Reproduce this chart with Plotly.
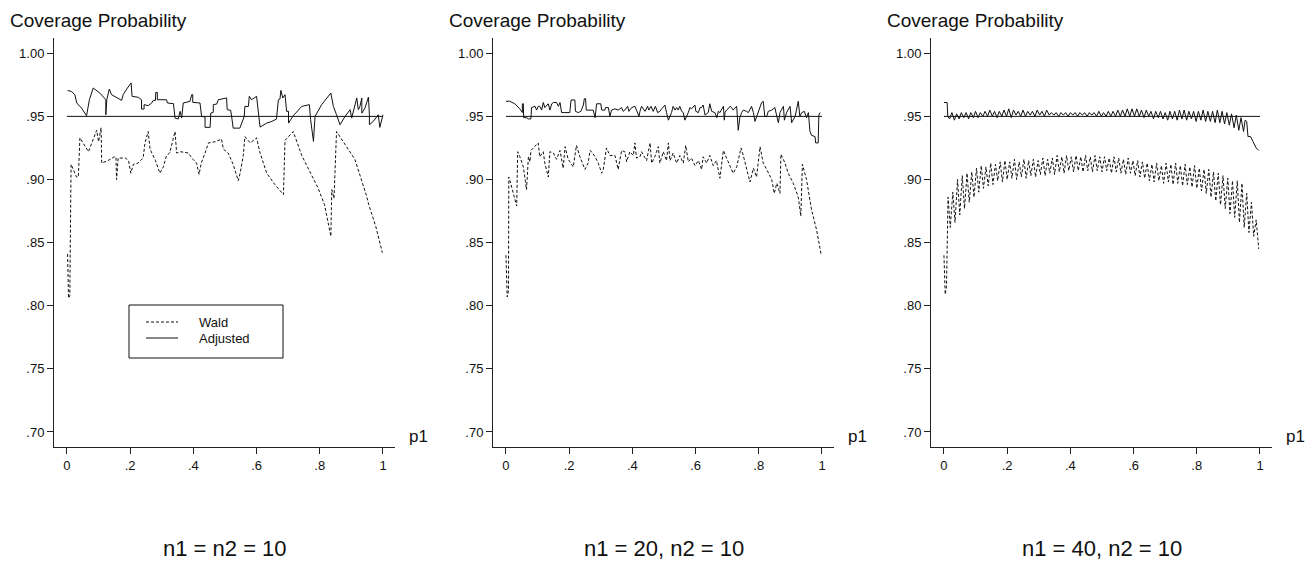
import plotly.graph_objects as go

# ---------------- data ----------------
panel_titles = ["n1 = n2 = 10", "n1 = 20, n2 = 10", "n1 = 40, n2 = 10"]
y_title = "Coverage Probability"
x_title = "p1"
series_names = ["Wald", "Adjusted"]
nominal_level = 0.95
nominal_x = [0.0, 1.0]

x_tickvals = [0, 0.2, 0.4, 0.6, 0.8, 1.0]
x_ticktext = ["0", ".2", ".4", ".6", ".8", "1"]
y_tickvals = [0.70, 0.75, 0.80, 0.85, 0.90, 0.95, 1.00]
y_ticktext = [".70", ".75", ".80", ".85", ".90", ".95", "1.00"]

# Panel 1: n1 = n2 = 10
wald1_p = [0.002, 0.005, 0.009, 0.013, 0.020, 0.030, 0.036, 0.041, 0.068, 0.094, 0.100, 0.108, 0.110,
           0.130, 0.150, 0.155, 0.157, 0.162, 0.185, 0.195, 0.202, 0.210, 0.225, 0.241, 0.247, 0.257,
           0.263, 0.280, 0.294, 0.305, 0.315, 0.325, 0.342, 0.347, 0.360, 0.384, 0.395, 0.410, 0.418,
           0.425, 0.437, 0.448, 0.470, 0.489, 0.495, 0.510, 0.526, 0.542, 0.548, 0.558, 0.563, 0.580,
           0.600, 0.610, 0.632, 0.658, 0.685, 0.690, 0.716, 0.743, 0.765, 0.795, 0.815, 0.835, 0.838,
           0.845, 0.853, 0.880, 0.911, 0.948, 0.955, 0.977, 0.998]
wald1_v = [0.841, 0.806, 0.808, 0.912, 0.908, 0.902, 0.902, 0.933, 0.922, 0.939, 0.930, 0.941, 0.913,
           0.915, 0.918, 0.918, 0.900, 0.917, 0.917, 0.915, 0.905, 0.912, 0.913, 0.917, 0.929, 0.938,
           0.924, 0.915, 0.905, 0.910, 0.919, 0.921, 0.938, 0.921, 0.922, 0.921, 0.917, 0.913, 0.904,
           0.913, 0.921, 0.929, 0.930, 0.932, 0.924, 0.921, 0.912, 0.899, 0.905, 0.919, 0.934, 0.929,
           0.933, 0.922, 0.905, 0.896, 0.888, 0.931, 0.938, 0.919, 0.908, 0.893, 0.880, 0.855, 0.892,
           0.885, 0.938, 0.928, 0.916, 0.887, 0.880, 0.863, 0.842]
adj1_p = [0.002, 0.015, 0.025, 0.031, 0.046, 0.062, 0.071, 0.083, 0.104, 0.123, 0.123, 0.126, 0.134,
          0.141, 0.173, 0.178, 0.189, 0.203, 0.206, 0.226, 0.236, 0.236, 0.244, 0.244, 0.257, 0.268,
          0.273, 0.280, 0.281, 0.286, 0.286, 0.315, 0.318, 0.337, 0.342, 0.352, 0.358, 0.363, 0.368,
          0.389, 0.395, 0.398, 0.398, 0.421, 0.426, 0.437, 0.437, 0.453, 0.455, 0.463, 0.463, 0.474,
          0.479, 0.489, 0.505, 0.507, 0.518, 0.521, 0.526, 0.547, 0.561, 0.563, 0.574, 0.577, 0.584,
          0.600, 0.605, 0.611, 0.632, 0.648, 0.663, 0.669, 0.674, 0.677, 0.683, 0.690, 0.695, 0.701,
          0.701, 0.716, 0.743, 0.767, 0.771, 0.780, 0.785, 0.806, 0.835, 0.843, 0.853, 0.864, 0.880,
          0.896, 0.901, 0.917, 0.922, 0.927, 0.933, 0.933, 0.943, 0.954, 0.957, 0.957, 0.969, 0.985,
          0.990, 1.000]
adj1_v = [0.9706, 0.9696, 0.9672, 0.9606, 0.9566, 0.9505, 0.9632, 0.9725, 0.9685, 0.9632, 0.9513,
          0.9632, 0.9717, 0.9672, 0.9627, 0.9672, 0.9717, 0.9765, 0.9659, 0.9651, 0.9632, 0.9558,
          0.9558, 0.9593, 0.9585, 0.9606, 0.9627, 0.9627, 0.9690, 0.9690, 0.9632, 0.9632, 0.9606,
          0.9601, 0.9487, 0.9479, 0.9540, 0.9487, 0.9606, 0.9619, 0.9672, 0.9672, 0.9611, 0.9606,
          0.9500, 0.9495, 0.9413, 0.9413, 0.9526, 0.9532, 0.9593, 0.9598, 0.9632, 0.9638, 0.9646,
          0.9553, 0.9548, 0.9500, 0.9407, 0.9407, 0.9500, 0.9579, 0.9579, 0.9659, 0.9632, 0.9659,
          0.9553, 0.9415, 0.9447, 0.9460, 0.9479, 0.9632, 0.9638, 0.9706, 0.9646, 0.9672, 0.9540,
          0.9540, 0.9447, 0.9505, 0.9579, 0.9593, 0.9474, 0.9302, 0.9500, 0.9593, 0.9685, 0.9579,
          0.9513, 0.9434, 0.9500, 0.9553, 0.9487, 0.9646, 0.9553, 0.9579, 0.9646, 0.9526, 0.9566,
          0.9653, 0.9513, 0.9434, 0.9460, 0.9513, 0.9413, 0.9513]

# Panel 2: n1 = 20, n2 = 10
wald2_p = [0.000, 0.004, 0.008, 0.009, 0.016, 0.034, 0.037, 0.044, 0.055, 0.065, 0.071, 0.076, 0.079,
           0.102, 0.107, 0.118, 0.123, 0.134, 0.139, 0.150, 0.160, 0.171, 0.181, 0.187, 0.197, 0.213,
           0.223, 0.234, 0.250, 0.260, 0.266, 0.271, 0.282, 0.292, 0.303, 0.308, 0.318, 0.329, 0.345,
           0.355, 0.366, 0.376, 0.382, 0.392, 0.403, 0.408, 0.413, 0.424, 0.429, 0.435, 0.445, 0.456,
           0.461, 0.471, 0.482, 0.487, 0.498, 0.508, 0.514, 0.519, 0.529, 0.540, 0.550, 0.561, 0.569,
           0.577, 0.587, 0.598, 0.609, 0.619, 0.624, 0.635, 0.645, 0.656, 0.666, 0.677, 0.688, 0.698,
           0.709, 0.719, 0.730, 0.744, 0.751, 0.761, 0.772, 0.783, 0.793, 0.804, 0.814, 0.825, 0.841,
           0.849, 0.857, 0.867, 0.870, 0.883, 0.893, 0.909, 0.925, 0.933, 0.938, 0.951, 0.967, 0.983,
           0.997]
wald2_v = [0.840, 0.807, 0.812, 0.902, 0.896, 0.879, 0.922, 0.918, 0.910, 0.892, 0.918, 0.914, 0.923,
           0.929, 0.918, 0.922, 0.913, 0.902, 0.922, 0.921, 0.916, 0.923, 0.909, 0.926, 0.916, 0.910,
           0.927, 0.918, 0.908, 0.913, 0.923, 0.922, 0.918, 0.913, 0.905, 0.908, 0.925, 0.919, 0.919,
           0.908, 0.923, 0.922, 0.914, 0.922, 0.919, 0.929, 0.917, 0.918, 0.922, 0.919, 0.915, 0.929,
           0.913, 0.918, 0.926, 0.913, 0.922, 0.915, 0.929, 0.915, 0.921, 0.913, 0.919, 0.913, 0.927,
           0.914, 0.917, 0.911, 0.915, 0.908, 0.918, 0.913, 0.919, 0.911, 0.915, 0.901, 0.923, 0.917,
           0.911, 0.905, 0.910, 0.925, 0.919, 0.908, 0.898, 0.909, 0.902, 0.926, 0.913, 0.908, 0.900,
           0.889, 0.897, 0.889, 0.920, 0.913, 0.905, 0.897, 0.886, 0.871, 0.912, 0.900, 0.876, 0.860,
           0.841]
adj2_p = [0.000, 0.012, 0.028, 0.044, 0.052, 0.052, 0.055, 0.056, 0.065, 0.071, 0.079, 0.081, 0.092,
          0.097, 0.102, 0.107, 0.113, 0.118, 0.123, 0.134, 0.139, 0.145, 0.150, 0.160, 0.166, 0.171,
          0.176, 0.192, 0.202, 0.206, 0.218, 0.220, 0.229, 0.237, 0.245, 0.248, 0.252, 0.254, 0.266,
          0.276, 0.282, 0.287, 0.300, 0.303, 0.313, 0.315, 0.324, 0.329, 0.334, 0.345, 0.355, 0.366,
          0.371, 0.376, 0.385, 0.389, 0.398, 0.408, 0.413, 0.421, 0.424, 0.429, 0.440, 0.448, 0.452,
          0.459, 0.466, 0.473, 0.480, 0.487, 0.493, 0.498, 0.503, 0.508, 0.514, 0.519, 0.524, 0.529,
          0.535, 0.540, 0.545, 0.550, 0.556, 0.561, 0.566, 0.577, 0.582, 0.587, 0.593, 0.598, 0.601,
          0.609, 0.614, 0.619, 0.624, 0.630, 0.640, 0.645, 0.651, 0.661, 0.667, 0.672, 0.677, 0.682,
          0.688, 0.691, 0.693, 0.698, 0.703, 0.709, 0.714, 0.719, 0.725, 0.730, 0.735, 0.740, 0.746,
          0.751, 0.761, 0.767, 0.777, 0.783, 0.788, 0.798, 0.804, 0.809, 0.814, 0.819, 0.825, 0.830,
          0.841, 0.851, 0.857, 0.862, 0.867, 0.872, 0.878, 0.881, 0.888, 0.899, 0.904, 0.915, 0.925,
          0.930, 0.936, 0.944, 0.951, 0.957, 0.962, 0.967, 0.978, 0.980, 0.988, 0.990, 0.994]
adj2_v = [0.962, 0.962, 0.960, 0.956, 0.953, 0.960, 0.960, 0.949, 0.949, 0.948, 0.948, 0.957, 0.958,
          0.955, 0.958, 0.958, 0.955, 0.961, 0.957, 0.960, 0.955, 0.960, 0.961, 0.961, 0.958, 0.961,
          0.953, 0.953, 0.953, 0.963, 0.963, 0.954, 0.953, 0.954, 0.959, 0.964, 0.964, 0.955, 0.955,
          0.955, 0.949, 0.960, 0.960, 0.955, 0.955, 0.957, 0.957, 0.950, 0.955, 0.956, 0.955, 0.957,
          0.954, 0.955, 0.958, 0.954, 0.957, 0.958, 0.955, 0.950, 0.954, 0.958, 0.954, 0.958, 0.955,
          0.958, 0.954, 0.958, 0.953, 0.954, 0.956, 0.958, 0.959, 0.953, 0.947, 0.950, 0.953, 0.958,
          0.955, 0.957, 0.955, 0.958, 0.954, 0.953, 0.947, 0.953, 0.957, 0.956, 0.958, 0.959, 0.954,
          0.953, 0.957, 0.957, 0.959, 0.951, 0.953, 0.960, 0.954, 0.953, 0.949, 0.954, 0.953, 0.955,
          0.958, 0.947, 0.953, 0.955, 0.956, 0.958, 0.957, 0.955, 0.957, 0.958, 0.939, 0.949, 0.953,
          0.955, 0.954, 0.953, 0.958, 0.953, 0.946, 0.953, 0.957, 0.961, 0.962, 0.950, 0.950, 0.954,
          0.955, 0.957, 0.950, 0.945, 0.953, 0.955, 0.958, 0.947, 0.953, 0.958, 0.945, 0.950, 0.962,
          0.950, 0.953, 0.954, 0.949, 0.953, 0.938, 0.935, 0.934, 0.929, 0.929, 0.951, 0.953]

# Panel 3: n1 = 40, n2 = 10
wald3_p = [0.000, 0.004, 0.008, 0.013, 0.020, 0.028, 0.035, 0.043, 0.050, 0.058, 0.065, 0.073, 0.080,
           0.088, 0.095, 0.103, 0.110, 0.118, 0.125, 0.133, 0.140, 0.148, 0.155, 0.163, 0.170, 0.178,
           0.185, 0.193, 0.200, 0.208, 0.215, 0.223, 0.230, 0.238, 0.245, 0.253, 0.260, 0.268, 0.275,
           0.283, 0.290, 0.298, 0.305, 0.313, 0.320, 0.328, 0.335, 0.343, 0.350, 0.358, 0.365, 0.373,
           0.380, 0.388, 0.395, 0.403, 0.410, 0.418, 0.425, 0.433, 0.440, 0.448, 0.455, 0.463, 0.470,
           0.478, 0.485, 0.493, 0.500, 0.508, 0.515, 0.523, 0.530, 0.538, 0.545, 0.553, 0.560, 0.568,
           0.575, 0.583, 0.590, 0.598, 0.605, 0.613, 0.620, 0.628, 0.635, 0.643, 0.650, 0.658, 0.665,
           0.673, 0.680, 0.688, 0.695, 0.703, 0.710, 0.718, 0.725, 0.733, 0.740, 0.748, 0.755, 0.763,
           0.770, 0.778, 0.785, 0.793, 0.800, 0.808, 0.815, 0.823, 0.830, 0.838, 0.845, 0.853, 0.860,
           0.868, 0.875, 0.883, 0.890, 0.898, 0.905, 0.913, 0.920, 0.928, 0.935, 0.943, 0.950, 0.958,
           0.965, 0.973, 0.980, 0.988, 0.996]
wald3_v = [0.840, 0.809, 0.815, 0.886, 0.862, 0.890, 0.866, 0.900, 0.872, 0.903, 0.877, 0.905, 0.882,
           0.906, 0.886, 0.909, 0.890, 0.911, 0.893, 0.910, 0.895, 0.913, 0.896, 0.912, 0.899, 0.914,
           0.898, 0.915, 0.900, 0.914, 0.901, 0.916, 0.900, 0.914, 0.902, 0.916, 0.901, 0.915, 0.903,
           0.916, 0.902, 0.915, 0.904, 0.917, 0.903, 0.916, 0.905, 0.917, 0.904, 0.919, 0.906, 0.918,
           0.905, 0.919, 0.907, 0.918, 0.906, 0.919, 0.907, 0.918, 0.906, 0.919, 0.907, 0.918, 0.906,
           0.919, 0.907, 0.918, 0.906, 0.918, 0.907, 0.917, 0.905, 0.918, 0.906, 0.917, 0.905, 0.916,
           0.904, 0.917, 0.905, 0.915, 0.903, 0.915, 0.902, 0.914, 0.901, 0.913, 0.899, 0.912, 0.898,
           0.913, 0.899, 0.911, 0.897, 0.913, 0.898, 0.912, 0.896, 0.913, 0.897, 0.911, 0.895, 0.912,
           0.896, 0.910, 0.894, 0.911, 0.893, 0.909, 0.891, 0.908, 0.889, 0.908, 0.886, 0.906, 0.883,
           0.905, 0.880, 0.903, 0.877, 0.901, 0.873, 0.899, 0.870, 0.899, 0.866, 0.897, 0.862, 0.889,
           0.858, 0.882, 0.855, 0.868, 0.845]
adj3_p = [0.000, 0.010, 0.012, 0.018, 0.025, 0.033, 0.040, 0.048, 0.055, 0.063, 0.070, 0.078, 0.085,
          0.093, 0.100, 0.108, 0.115, 0.123, 0.130, 0.138, 0.145, 0.153, 0.160, 0.168, 0.175, 0.183,
          0.190, 0.198, 0.205, 0.213, 0.220, 0.228, 0.235, 0.243, 0.250, 0.258, 0.265, 0.273, 0.280,
          0.288, 0.295, 0.303, 0.310, 0.318, 0.325, 0.333, 0.340, 0.348, 0.355, 0.363, 0.370, 0.378,
          0.385, 0.393, 0.400, 0.408, 0.415, 0.423, 0.430, 0.438, 0.445, 0.453, 0.460, 0.468, 0.475,
          0.483, 0.490, 0.498, 0.505, 0.513, 0.520, 0.528, 0.535, 0.543, 0.550, 0.558, 0.565, 0.573,
          0.580, 0.588, 0.595, 0.603, 0.610, 0.618, 0.625, 0.633, 0.640, 0.648, 0.655, 0.663, 0.670,
          0.678, 0.685, 0.693, 0.700, 0.708, 0.715, 0.723, 0.730, 0.738, 0.745, 0.753, 0.760, 0.768,
          0.775, 0.783, 0.790, 0.798, 0.805, 0.813, 0.820, 0.828, 0.835, 0.843, 0.850, 0.858, 0.865,
          0.873, 0.880, 0.888, 0.895, 0.903, 0.910, 0.918, 0.925, 0.933, 0.940, 0.948, 0.953, 0.958,
          0.962, 0.970, 0.978, 0.988, 0.996]
adj3_v = [0.961, 0.961, 0.950, 0.948, 0.953, 0.947, 0.952, 0.948, 0.953, 0.949, 0.953, 0.948, 0.953,
          0.949, 0.954, 0.949, 0.953, 0.950, 0.954, 0.950, 0.955, 0.950, 0.954, 0.949, 0.954, 0.950,
          0.955, 0.950, 0.956, 0.949, 0.955, 0.951, 0.954, 0.950, 0.955, 0.950, 0.954, 0.951, 0.954,
          0.950, 0.955, 0.951, 0.954, 0.950, 0.955, 0.951, 0.953, 0.951, 0.953, 0.950, 0.953, 0.951,
          0.953, 0.950, 0.953, 0.951, 0.953, 0.950, 0.953, 0.951, 0.953, 0.950, 0.953, 0.951, 0.953,
          0.950, 0.954, 0.950, 0.953, 0.950, 0.954, 0.950, 0.954, 0.950, 0.955, 0.950, 0.955, 0.950,
          0.956, 0.950, 0.956, 0.950, 0.956, 0.950, 0.955, 0.949, 0.955, 0.950, 0.954, 0.948, 0.954,
          0.949, 0.954, 0.948, 0.953, 0.947, 0.954, 0.948, 0.954, 0.947, 0.955, 0.948, 0.955, 0.947,
          0.954, 0.948, 0.954, 0.946, 0.954, 0.947, 0.955, 0.946, 0.954, 0.946, 0.954, 0.945, 0.955,
          0.945, 0.954, 0.944, 0.953, 0.943, 0.952, 0.941, 0.951, 0.939, 0.949, 0.938, 0.947, 0.946,
          0.934, 0.934, 0.930, 0.925, 0.923]

panels = [
    (wald1_p, wald1_v, adj1_p, adj1_v),
    (wald2_p, wald2_v, adj2_p, adj2_v),
    (wald3_p, wald3_v, adj3_p, adj3_v),
]

# ---------------- layout geometry (pixels) ----------------
W, H = 1305, 565
axis_left_px = [54, 493, 931]
axis_width_px = 341
axis_top_px, axis_bottom_px = 38, 447
x_range = [-0.041, 1.038]
y_range = [0.6881, 1.0121]
FONT = "Liberation Sans, Arial, Helvetica, sans-serif"
INK = "#111111"

def px_x(px):
    return px / W

def px_y(py):
    return 1 - py / H

fig = go.Figure()
layout_axes = {}
annotations = []

for i, (wp, wv, ap, av) in enumerate(panels):
    suffix = "" if i == 0 else str(i + 1)
    xa, ya = "x" + suffix, "y" + suffix
    fig.add_trace(go.Scatter(x=nominal_x, y=[nominal_level] * len(nominal_x), mode="lines",
                             line=dict(color=INK, width=1), xaxis=xa, yaxis=ya,
                             showlegend=False, hoverinfo="skip"))
    fig.add_trace(go.Scatter(x=wp, y=wv, mode="lines", name=series_names[0],
                             line=dict(color=INK, width=1, dash="3px,2px"),
                             xaxis=xa, yaxis=ya, showlegend=False))
    fig.add_trace(go.Scatter(x=ap, y=av, mode="lines", name=series_names[1],
                             line=dict(color=INK, width=1), xaxis=xa, yaxis=ya,
                             showlegend=False))

    left = axis_left_px[i]
    right = left + axis_width_px
    dom_x = [px_x(left), px_x(right)]
    dom_y = [px_y(axis_bottom_px), px_y(axis_top_px)]
    common = dict(showline=True, linecolor="#222222", linewidth=1, ticks="outside",
                  ticklen=6, tickwidth=1, tickcolor="#222222", showgrid=False,
                  zeroline=False, tickfont=dict(family=FONT, size=13, color=INK))
    layout_axes["xaxis" + suffix] = dict(domain=dom_x, range=x_range, anchor=ya,
                                         tickvals=x_tickvals, ticktext=x_ticktext, **common)
    layout_axes["yaxis" + suffix] = dict(domain=dom_y, range=y_range, anchor=xa,
                                         tickvals=y_tickvals, ticktext=y_ticktext, **common)

    annotations.append(dict(x=px_x(left - 46), y=px_y(20), xref="paper", yref="paper",
                            text=y_title, showarrow=False, xanchor="left", yanchor="middle",
                            font=dict(family=FONT, size=19, color=INK)))
    annotations.append(dict(x=px_x(right + 12), y=px_y(436), xref="paper", yref="paper",
                            text=x_title, showarrow=False, xanchor="left", yanchor="middle",
                            font=dict(family=FONT, size=17, color=INK)))
    annotations.append(dict(x=px_x((left + right) / 2), y=px_y(548), xref="paper", yref="paper",
                            text=panel_titles[i], showarrow=False, xanchor="center",
                            yanchor="middle", font=dict(family=FONT, size=22, color=INK)))

# legend box in panel 1 (drawn manually)
shapes = [
    dict(type="rect", xref="paper", yref="paper", x0=px_x(129), x1=px_x(283),
         y0=px_y(358), y1=px_y(305), line=dict(color=INK, width=1), fillcolor="white"),
    dict(type="line", xref="paper", yref="paper", x0=px_x(146), x1=px_x(178),
         y0=px_y(322), y1=px_y(322), line=dict(color=INK, width=1, dash="3px,2px")),
    dict(type="line", xref="paper", yref="paper", x0=px_x(146), x1=px_x(178),
         y0=px_y(338), y1=px_y(338), line=dict(color=INK, width=1)),
]
for name, py in zip(series_names, [322, 338]):
    annotations.append(dict(x=px_x(197), y=px_y(py), xref="paper", yref="paper", text=name,
                            showarrow=False, xanchor="left", yanchor="middle",
                            font=dict(family=FONT, size=13, color=INK)))

fig.update_layout(width=W, height=H, margin=dict(l=0, r=0, t=0, b=0),
                  paper_bgcolor="white", plot_bgcolor="white",
                  font=dict(family=FONT, color=INK), showlegend=False,
                  annotations=annotations, shapes=shapes, **layout_axes)

fig.write_html("out.html", config={"displayModeBar": False},
               post_script="document.body.style.margin='0';document.body.style.overflow='hidden';")
